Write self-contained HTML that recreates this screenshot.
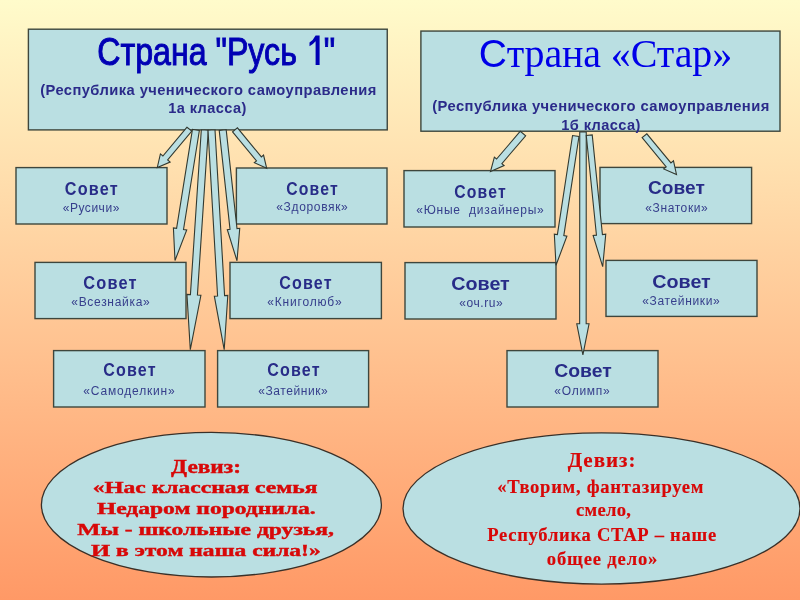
<!DOCTYPE html>
<html><head><meta charset="utf-8">
<style>
html,body{margin:0;padding:0;}
body{width:800px;height:600px;overflow:hidden;position:relative;background:linear-gradient(180deg,#FFFBCB 0%,#FF9966 100%);}
svg{position:absolute;left:0;top:0;filter:blur(0.35px);}
.bx{fill:#BADFE2;stroke:#3e463d;stroke-width:1.4;}
.el{fill:#BADFE2;stroke:#3a3028;stroke-width:1.3;}
.ar{fill:#BADFE2;stroke:#323930;stroke-width:1.1;stroke-linejoin:miter;}
text{text-anchor:middle;}
.t1{font-family:"Liberation Sans",sans-serif;font-weight:normal;font-size:39px;fill:#0000b4;stroke:#0000b4;stroke-width:1.0px;}
.t2{font-family:"Liberation Serif",serif;font-size:40px;fill:#0000e8;}
.t2a{font-family:"Liberation Sans",sans-serif;font-size:39px;}
.s1{font-family:"Liberation Sans",sans-serif;font-weight:bold;font-size:14px;fill:#2b2b8a;}
.sv{font-family:"Liberation Sans",sans-serif;font-weight:bold;font-size:18px;fill:#282c88;}
.sb{font-family:"Liberation Sans",sans-serif;font-size:12px;fill:#363e8c;}
.e1{font-family:"Liberation Serif",serif;font-weight:bold;font-size:16.3px;fill:#d80808;stroke:#d80808;stroke-width:0.4px;}
.cap{font-size:17px;}
.spaced{letter-spacing:1.3px;}
.one{fill:none;stroke:none;}
.e2{font-family:"Liberation Serif",serif;font-weight:bold;font-size:18.6px;fill:#d80808;stroke:#d80808;stroke-width:0.15px;}
.big{font-size:21px;}
.sp2{letter-spacing:0.4px;}
.bigl{font-size:19.5px;}
</style></head><body>
<svg width="800" height="600" viewBox="0 0 800 600">
<rect x="16" y="167.6" width="151" height="56.4" class="bx"/>
<rect x="236.4" y="168" width="150.6" height="56" class="bx"/>
<rect x="35" y="262.4" width="151" height="56.2" class="bx"/>
<rect x="230" y="262.4" width="151.4" height="56.2" class="bx"/>
<rect x="53.6" y="350.6" width="151.4" height="56.4" class="bx"/>
<rect x="217.6" y="350.6" width="151" height="56.4" class="bx"/>
<rect x="404" y="170.6" width="151" height="56.4" class="bx"/>
<rect x="600" y="167.4" width="151.6" height="56.2" class="bx"/>
<rect x="405" y="262.6" width="151" height="56.4" class="bx"/>
<rect x="606" y="260.4" width="151" height="56" class="bx"/>
<rect x="507" y="350.6" width="151" height="56.4" class="bx"/>
<rect x="28.4" y="29.2" width="358.85" height="100.7" class="bx"/>
<rect x="420.9" y="31.06" width="359.1" height="100.14" class="bx"/>
<ellipse cx="211.4" cy="504.7" rx="170" ry="72.3" class="el"/>
<ellipse cx="601.5" cy="508.45" rx="198.5" ry="75.6" class="el"/>
<polygon points="187.02,127.21 162.89,156.01 160.40,153.92 157.30,167.50 170.13,162.08 167.64,159.99 191.78,131.19" class="ar"/>
<polygon points="232.57,131.80 256.51,160.88 254.35,162.66 266.70,168.30 263.54,155.10 261.38,156.88 237.43,127.80" class="ar"/>
<polygon points="192.44,129.45 176.60,228.35 173.40,227.84 175.00,260.50 186.73,229.97 183.52,229.46 199.36,130.55" class="ar"/>
<polygon points="201.31,129.77 190.43,294.59 186.94,294.36 190.30,349.70 200.91,295.28 197.41,295.05 208.29,130.23" class="ar"/>
<polygon points="208.01,130.20 217.59,295.99 214.34,296.18 224.20,349.70 227.82,295.40 224.58,295.59 214.99,129.80" class="ar"/>
<polygon points="219.22,130.38 230.04,229.37 227.31,229.67 237.00,260.80 239.74,228.31 237.00,228.61 226.18,129.62" class="ar"/>
<polygon points="520.34,131.23 496.55,159.04 494.35,157.16 490.50,171.50 504.07,165.48 501.87,163.59 525.66,135.77" class="ar"/>
<polygon points="572.54,135.51 557.39,234.66 554.33,234.19 556.00,265.30 566.88,236.11 563.82,235.64 578.96,136.49" class="ar"/>
<polygon points="579.75,132.00 579.66,323.80 576.76,323.80 582.90,354.80 589.06,323.80 586.16,323.80 586.25,132.00" class="ar"/>
<polygon points="586.27,135.56 596.46,235.17 593.13,235.51 602.70,266.70 605.76,234.22 602.43,234.56 592.23,134.94" class="ar"/>
<polygon points="642.15,137.69 666.22,166.84 663.68,168.94 676.50,174.50 673.47,160.86 670.92,162.96 646.85,133.81" class="ar"/>
<text id="t1" x="216.20" y="65" class="t1" textLength="237.90" lengthAdjust="spacingAndGlyphs" xml:space="preserve">Страна "Русь <tspan class="one">1</tspan>"</text>
<text id="t1s1" x="208.50" y="94.5" class="s1 sp2" textLength="336.50" lengthAdjust="spacingAndGlyphs" xml:space="preserve">(Республика ученического самоуправления</text>
<text id="t1s2" x="207.50" y="113" class="s1 sp2" textLength="78.50" lengthAdjust="spacingAndGlyphs" xml:space="preserve">1а класса)</text>
<text id="t2s1" x="601.00" y="111.25" class="s1 sp2" textLength="337.50" lengthAdjust="spacingAndGlyphs" xml:space="preserve">(Республика ученического самоуправления</text>
<text id="t2s2" x="601.00" y="129.5" class="s1 sp2" textLength="79.50" lengthAdjust="spacingAndGlyphs" xml:space="preserve">1б класса)</text>
<text id="L1a" x="91.80" y="194.5" class="sv spaced" textLength="53.90" lengthAdjust="spacingAndGlyphs" xml:space="preserve">Совет</text>
<text id="L1b" x="91.00" y="211.6" class="sb" textLength="56.70" lengthAdjust="spacing" xml:space="preserve">«Русичи»</text>
<text id="L2a" x="312.50" y="194.5" class="sv spaced" textLength="52.50" lengthAdjust="spacingAndGlyphs" xml:space="preserve">Совет</text>
<text id="L2b" x="312.00" y="211.3" class="sb" textLength="71.50" lengthAdjust="spacing" xml:space="preserve">«Здоровяк»</text>
<text id="L3a" x="110.50" y="288.75" class="sv spaced" textLength="54.50" lengthAdjust="spacingAndGlyphs" xml:space="preserve">Совет</text>
<text id="L3b" x="110.50" y="306.25" class="sb" textLength="78.50" lengthAdjust="spacing" xml:space="preserve">«Всезнайка»</text>
<text id="L4a" x="306.00" y="288.75" class="sv spaced" textLength="53.50" lengthAdjust="spacingAndGlyphs" xml:space="preserve">Совет</text>
<text id="L4b" x="304.50" y="305.5" class="sb" textLength="74.50" lengthAdjust="spacing" xml:space="preserve">«Книголюб»</text>
<text id="L5a" x="130.00" y="376.25" class="sv spaced" textLength="53.50" lengthAdjust="spacingAndGlyphs" xml:space="preserve">Совет</text>
<text id="L5b" x="129.00" y="394.5" class="sb" textLength="91.50" lengthAdjust="spacing" xml:space="preserve">«Самоделкин»</text>
<text id="L6a" x="294.00" y="376.25" class="sv spaced" textLength="53.50" lengthAdjust="spacingAndGlyphs" xml:space="preserve">Совет</text>
<text id="L6b" x="293.00" y="394.5" class="sb" textLength="69.50" lengthAdjust="spacing" xml:space="preserve">«Затейник»</text>
<text id="R1a" x="480.50" y="197.5" class="sv spaced" textLength="52.50" lengthAdjust="spacingAndGlyphs" xml:space="preserve">Совет</text>
<text id="R1b" x="480.00" y="213.6" class="sb" textLength="127.50" lengthAdjust="spacing" xml:space="preserve">«Юные  дизайнеры»</text>
<text id="R2a" x="676.40" y="194" class="sv" textLength="56.70" lengthAdjust="spacingAndGlyphs" xml:space="preserve">Совет</text>
<text id="R2b" x="676.50" y="211.6" class="sb" textLength="62.50" lengthAdjust="spacing" xml:space="preserve">«Знатоки»</text>
<text id="R3a" x="480.50" y="290" class="sv" textLength="58.50" lengthAdjust="spacingAndGlyphs" xml:space="preserve">Совет</text>
<text id="R3b" x="481.00" y="307" class="sb" textLength="43.50" lengthAdjust="spacing" xml:space="preserve">«оч.ru»</text>
<text id="R4a" x="681.50" y="287.5" class="sv" textLength="58.50" lengthAdjust="spacingAndGlyphs" xml:space="preserve">Совет</text>
<text id="R4b" x="681.00" y="304.5" class="sb" textLength="77.50" lengthAdjust="spacing" xml:space="preserve">«Затейники»</text>
<text id="R5a" x="583.00" y="377" class="sv" textLength="57.50" lengthAdjust="spacingAndGlyphs" xml:space="preserve">Совет</text>
<text id="R5b" x="582.00" y="394.5" class="sb" textLength="55.50" lengthAdjust="spacing" xml:space="preserve">«Олимп»</text>
<text id="E1a" x="206.00" y="472.8" class="e1 bigl" textLength="69.90" lengthAdjust="spacingAndGlyphs" xml:space="preserve">Девиз:</text>
<text id="E1b" x="205.10" y="493.4" class="e1" textLength="224.90" lengthAdjust="spacingAndGlyphs" xml:space="preserve">«<tspan class="cap">Н</tspan>ас классная семья</text>
<text id="E1c" x="206.40" y="514" class="e1" textLength="218.70" lengthAdjust="spacingAndGlyphs" xml:space="preserve"><tspan class="cap">Н</tspan>едаром породнила.</text>
<text id="E1d" x="205.60" y="534.9" class="e1" textLength="256.70" lengthAdjust="spacingAndGlyphs" xml:space="preserve"><tspan class="cap">М</tspan>ы - школьные друзья,</text>
<text id="E1e" x="205.90" y="555.8" class="e1" textLength="229.70" lengthAdjust="spacingAndGlyphs" xml:space="preserve"><tspan class="cap">И</tspan> в этом наша сила!»</text>
<text id="E2a" x="601.60" y="467.4" class="e2 big" textLength="67.90" lengthAdjust="spacing" xml:space="preserve">Девиз:</text>
<text id="E2b" x="600.30" y="493.0" class="e2" textLength="206.10" lengthAdjust="spacing" xml:space="preserve">«Творим, фантазируем</text>
<text id="E2c" x="603.50" y="516.3" class="e2" textLength="54.90" lengthAdjust="spacing" xml:space="preserve">смело,</text>
<text id="E2d" x="601.70" y="540.75" class="e2" textLength="228.90" lengthAdjust="spacing" xml:space="preserve">Республика СТАР – наше</text>
<text id="E2e" x="602.10" y="565.0" class="e2" textLength="110.50" lengthAdjust="spacing" xml:space="preserve">общее дело»</text>
<text id="t2" x="605.40" y="66.75" class="t2" textLength="253.50" lengthAdjust="spacing"><tspan class="t2a">С</tspan>трана «Стар»</text>
<path d="M315.6,35.6 L319.6,35.6 L319.6,64.9 L315.6,64.9 L315.6,41.2 Q312.8,44.6 309.5,46.2 L309.5,42.6 Q313.4,40.2 315.6,35.6 Z" fill="#0000b4"/>
</svg>
</body></html>
